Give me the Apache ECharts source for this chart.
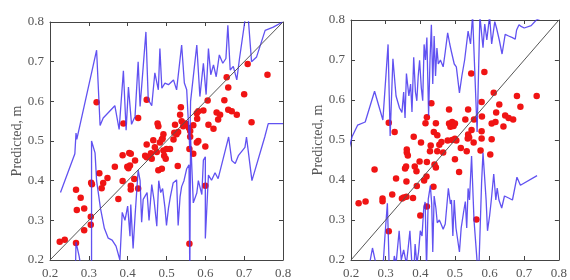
<!DOCTYPE html>
<html>
<head>
<meta charset="utf-8">
<title>Predicted vs measured</title>
<script src="https://cdn.jsdelivr.net/npm/echarts@6.0.0/dist/echarts.min.js"></script>
<style>
  html, body { margin: 0; padding: 0; background: #fff; }
  #main { width: 570px; height: 280px; }
</style>
</head>
<body>
<div id="main"></div>
<script>
// axis range shared by both panels
var axisMin = 0.2, axisMax = 0.8, axisStep = 0.1;
var yName = 'Predicted, m';

// left panel: measured/predicted pairs
var leftPoints = [
  [0.225,0.246],[0.238,0.251],[0.267,0.243],[0.267,0.377],[0.269,0.326],[0.279,0.357],[0.288,0.330],[0.288,0.275],
  [0.305,0.309],[0.305,0.289],[0.306,0.395],[0.308,0.391],[0.320,0.598],[0.327,0.419],[0.337,0.394],[0.333,0.381],
  [0.348,0.407],[0.367,0.435],[0.376,0.354],[0.387,0.464],[0.387,0.399],[0.389,0.544],[0.399,0.435],[0.402,0.431],
  [0.406,0.438],[0.404,0.470],[0.408,0.468],[0.408,0.387],[0.408,0.378],[0.419,0.451],[0.417,0.404],[0.427,0.380],
  [0.427,0.558],[0.445,0.463],[0.449,0.491],[0.449,0.459],[0.449,0.604],[0.460,0.469],[0.462,0.455],[0.466,0.502],
  [0.470,0.484],[0.475,0.472],[0.477,0.544],[0.479,0.537],[0.479,0.426],[0.483,0.496],[0.488,0.504],[0.488,0.430],
  [0.490,0.506],[0.492,0.517],[0.492,0.476],[0.494,0.463],[0.498,0.455],[0.500,0.480],[0.509,0.480],[0.518,0.504],
  [0.520,0.521],[0.522,0.541],[0.526,0.517],[0.529,0.437],[0.530,0.523],[0.535,0.566],[0.537,0.585],[0.539,0.550],
  [0.543,0.537],[0.549,0.544],[0.558,0.533],[0.559,0.480],[0.559,0.241],[0.561,0.525],[0.561,0.511],[0.569,0.468],
  [0.569,0.540],[0.578,0.570],[0.578,0.496],[0.579,0.556],[0.582,0.575],[0.582,0.500],[0.595,0.577],[0.600,0.486],
  [0.600,0.387],[0.606,0.602],[0.608,0.541],[0.621,0.531],[0.629,0.572],[0.633,0.554],[0.638,0.566],[0.649,0.603],
  [0.655,0.661],[0.659,0.635],[0.659,0.579],[0.668,0.575],[0.681,0.566],[0.700,0.618],[0.709,0.694],[0.719,0.547],
  [0.760,0.667]
];
var leftUpper = [
  [0.227,0.370],[0.264,0.468],[0.267,0.520],[0.269,0.504],[0.320,0.729],[0.329,0.539],[0.337,0.558],[0.367,0.589],
  [0.378,0.529],[0.389,0.677],[0.396,0.527],[0.402,0.636],[0.410,0.542],[0.419,0.562],[0.427,0.700],[0.432,0.587],
  [0.447,0.775],[0.453,0.604],[0.462,0.589],[0.470,0.672],[0.479,0.629],[0.483,0.733],[0.488,0.633],[0.496,0.646],
  [0.505,0.642],[0.518,0.654],[0.526,0.629],[0.539,0.742],[0.546,0.646],[0.552,0.629],[0.556,0.630],[0.560,0.480],
  [0.562,0.600],[0.578,0.742],[0.586,0.612],[0.595,0.696],[0.602,0.617],[0.608,0.733],[0.614,0.667],[0.621,0.692],
  [0.628,0.662],[0.636,0.717],[0.645,0.696],[0.653,0.708],[0.658,0.792],[0.664,0.679],[0.672,0.688],[0.681,0.654],
  [0.688,0.708],[0.702,0.804],[0.711,0.804],[0.719,0.700],[0.732,0.712],[0.754,0.779],[0.775,0.787],[0.799,0.800]
];
var leftLower = [
  [0.265,0.150],[0.267,0.245],[0.275,0.210],[0.285,0.150],[0.307,0.150],[0.307,0.500],[0.316,0.470],[0.320,0.400],
  [0.330,0.330],[0.340,0.280],[0.350,0.255],[0.360,0.250],[0.370,0.235],[0.380,0.200],[0.386,0.320],[0.393,0.300],
  [0.400,0.336],[0.406,0.260],[0.408,0.340],[0.414,0.229],[0.419,0.311],[0.427,0.427],[0.432,0.400],[0.436,0.295],
  [0.440,0.353],[0.450,0.370],[0.455,0.300],[0.462,0.390],[0.468,0.350],[0.475,0.285],[0.480,0.400],[0.485,0.370],
  [0.490,0.380],[0.496,0.332],[0.500,0.287],[0.505,0.330],[0.510,0.360],[0.517,0.394],[0.526,0.402],[0.530,0.287],
  [0.535,0.360],[0.539,0.385],[0.545,0.400],[0.552,0.430],[0.558,0.440],[0.560,0.150],[0.562,0.510],[0.569,0.344],
  [0.578,0.369],[0.582,0.400],[0.591,0.365],[0.595,0.452],[0.600,0.460],[0.600,0.254],[0.608,0.414],[0.616,0.401],
  [0.625,0.420],[0.633,0.405],[0.651,0.475],[0.660,0.510],[0.668,0.451],[0.677,0.443],[0.685,0.463],[0.702,0.484],
  [0.706,0.510],[0.720,0.400],[0.753,0.510],[0.762,0.544],[0.800,0.544]
];

// right panel
var rightPoints = [
  [0.222,0.342],[0.242,0.346],[0.268,0.426],[0.291,0.354],[0.291,0.347],[0.309,0.272],[0.309,0.543],[0.319,0.364],
  [0.326,0.520],[0.330,0.404],[0.347,0.354],[0.352,0.356],[0.360,0.358],[0.356,0.429],[0.359,0.434],[0.361,0.469],
  [0.361,0.476],[0.364,0.461],[0.360,0.396],[0.379,0.355],[0.381,0.508],[0.384,0.434],[0.389,0.422],[0.390,0.385],
  [0.398,0.446],[0.400,0.311],[0.402,0.494],[0.411,0.399],[0.415,0.542],[0.418,0.409],[0.419,0.445],[0.419,0.334],
  [0.419,0.557],[0.428,0.472],[0.430,0.486],[0.432,0.592],[0.438,0.383],[0.439,0.520],[0.441,0.439],[0.445,0.431],
  [0.445,0.542],[0.449,0.472],[0.449,0.512],[0.455,0.488],[0.461,0.495],[0.466,0.469],[0.479,0.499],[0.483,0.576],
  [0.483,0.541],[0.487,0.533],[0.492,0.545],[0.492,0.500],[0.496,0.535],[0.500,0.541],[0.500,0.452],[0.500,0.503],
  [0.504,0.499],[0.512,0.420],[0.517,0.480],[0.530,0.551],[0.534,0.472],[0.537,0.504],[0.538,0.576],[0.538,0.514],
  [0.541,0.506],[0.547,0.666],[0.548,0.525],[0.554,0.494],[0.555,0.551],[0.562,0.301],[0.574,0.474],[0.577,0.504],
  [0.577,0.595],[0.577,0.522],[0.578,0.559],[0.585,0.670],[0.602,0.464],[0.606,0.502],[0.606,0.541],[0.612,0.618],
  [0.617,0.545],[0.619,0.569],[0.628,0.589],[0.640,0.534],[0.645,0.561],[0.655,0.555],[0.668,0.551],[0.679,0.610],
  [0.689,0.583],[0.736,0.610]
];
var rightUpper = [
  [0.195,0.480],[0.203,0.508],[0.219,0.537],[0.241,0.545],[0.268,0.622],[0.292,0.550],[0.307,0.739],[0.313,0.510],
  [0.321,0.703],[0.330,0.610],[0.340,0.580],[0.347,0.569],[0.352,0.620],[0.356,0.555],[0.360,0.666],[0.367,0.610],
  [0.372,0.640],[0.376,0.570],[0.381,0.707],[0.386,0.620],[0.390,0.598],[0.394,0.660],[0.398,0.699],[0.403,0.630],
  [0.407,0.598],[0.411,0.739],[0.415,0.700],[0.419,0.756],[0.424,0.561],[0.428,0.700],[0.432,0.788],[0.436,0.640],
  [0.440,0.760],[0.444,0.660],[0.448,0.730],[0.452,0.690],[0.458,0.700],[0.466,0.683],[0.472,0.720],[0.479,0.768],
  [0.485,0.740],[0.490,0.720],[0.498,0.690],[0.504,0.683],[0.513,0.618],[0.520,0.660],[0.528,0.700],[0.538,0.772],
  [0.545,0.740],[0.551,0.812],[0.564,0.520],[0.572,0.810],[0.581,0.731],[0.586,0.790],[0.592,0.750],[0.600,0.810],
  [0.606,0.740],[0.615,0.796],[0.620,0.780],[0.628,0.750],[0.636,0.715],[0.645,0.764],[0.655,0.760],[0.666,0.756],
  [0.674,0.752],[0.678,0.775],[0.685,0.788],[0.691,0.784],[0.700,0.780],[0.720,0.786],[0.735,0.800],[0.760,0.810]
];
var rightLower = [
  [0.245,0.150],[0.262,0.230],[0.272,0.190],[0.290,0.150],[0.298,0.260],[0.305,0.342],[0.310,0.190],[0.318,0.150],
  [0.325,0.210],[0.330,0.190],[0.339,0.273],[0.345,0.200],[0.352,0.225],[0.360,0.190],[0.365,0.230],[0.370,0.273],
  [0.375,0.200],[0.382,0.180],[0.385,0.240],[0.390,0.190],[0.395,0.220],[0.400,0.273],[0.405,0.260],[0.410,0.330],
  [0.414,0.345],[0.418,0.180],[0.423,0.352],[0.429,0.386],[0.433,0.340],[0.436,0.220],[0.440,0.360],[0.445,0.330],
  [0.449,0.293],[0.455,0.300],[0.460,0.290],[0.466,0.277],[0.472,0.290],[0.481,0.379],[0.487,0.340],[0.490,0.350],
  [0.494,0.260],[0.498,0.350],[0.503,0.280],[0.513,0.220],[0.518,0.280],[0.525,0.320],[0.530,0.346],[0.534,0.280],
  [0.538,0.379],[0.542,0.350],[0.548,0.460],[0.555,0.300],[0.568,0.150],[0.577,0.395],[0.581,0.468],[0.590,0.350],
  [0.594,0.273],[0.600,0.310],[0.605,0.350],[0.612,0.415],[0.618,0.350],[0.622,0.380],[0.627,0.350],[0.635,0.330],
  [0.643,0.360],[0.655,0.355],[0.666,0.350],[0.679,0.407],[0.689,0.387],[0.737,0.411]
];
var diagonal = [[0.2,0.2],[0.8,0.8]];

var chart = echarts.init(document.getElementById('main'));
var serif = 'Liberation Serif';
var axisColor = '#444';
var labelColor = '#555';

function xAxes(gridIndex) {
  var base = {
    type: 'value', gridIndex: gridIndex, min: axisMin, max: axisMax, interval: axisStep,
    splitLine: { show: false },
    axisLine: { lineStyle: { color: axisColor, width: 1 } },
    axisTick: { inside: true, length: 4, lineStyle: { color: axisColor } }
  };
  return [
    Object.assign({}, base, {
      position: 'bottom',
      axisLabel: { color: labelColor, fontFamily: serif, fontSize: 13, margin: 7,
        formatter: function (v) { return v.toFixed(1); } }
    }),
    Object.assign({}, base, { position: 'top', axisLabel: { show: false } })
  ];
}
function yAxes(gridIndex) {
  var base = {
    type: 'value', gridIndex: gridIndex, min: axisMin, max: axisMax, interval: axisStep,
    splitLine: { show: false },
    axisLine: { lineStyle: { color: axisColor, width: 1 } },
    axisTick: { inside: true, length: 4, lineStyle: { color: axisColor } }
  };
  return [
    Object.assign({}, base, {
      position: 'left',
      name: yName, nameLocation: 'middle', nameGap: 26,
      nameTextStyle: { color: labelColor, fontFamily: serif, fontSize: 14 },
      axisLabel: { color: labelColor, fontFamily: serif, fontSize: 13, margin: 6,
        formatter: function (v) { return v.toFixed(1); } }
    }),
    Object.assign({}, base, { position: 'right', axisLabel: { show: false } })
  ];
}

function panelSeries(idx, points, upper, lower) {
  var xi = idx * 2, yi = idx * 2;
  return [
    { type: 'line', xAxisIndex: xi, yAxisIndex: yi, data: upper, showSymbol: false, clip: true,
      lineStyle: { color: '#4534ee', width: 1.3, opacity: 0.85 }, silent: true },
    { type: 'line', xAxisIndex: xi, yAxisIndex: yi, data: lower, showSymbol: false, clip: true,
      lineStyle: { color: '#4534ee', width: 1.3, opacity: 0.85 }, silent: true },
    { type: 'line', xAxisIndex: xi, yAxisIndex: yi, data: diagonal, showSymbol: false, clip: true,
      lineStyle: { color: '#555', width: 1 }, silent: true },
    { type: 'scatter', xAxisIndex: xi, yAxisIndex: yi, data: points, symbolSize: 6.5, clip: true,
      itemStyle: { color: '#f01414', opacity: 1 } }
  ];
}

chart.setOption({
  animation: false,
  grid: [
    { left: 50, top: 22, width: 233, height: 243 },
    { left: 351, top: 20, width: 235, height: 247 }
  ],
  xAxis: xAxes(0).concat(xAxes(1)),
  yAxis: yAxes(0).concat(yAxes(1)),
  series: panelSeries(0, leftPoints, leftUpper, leftLower)
    .concat(panelSeries(1, rightPoints, rightUpper, rightLower))
});
</script>
</body>
</html>
